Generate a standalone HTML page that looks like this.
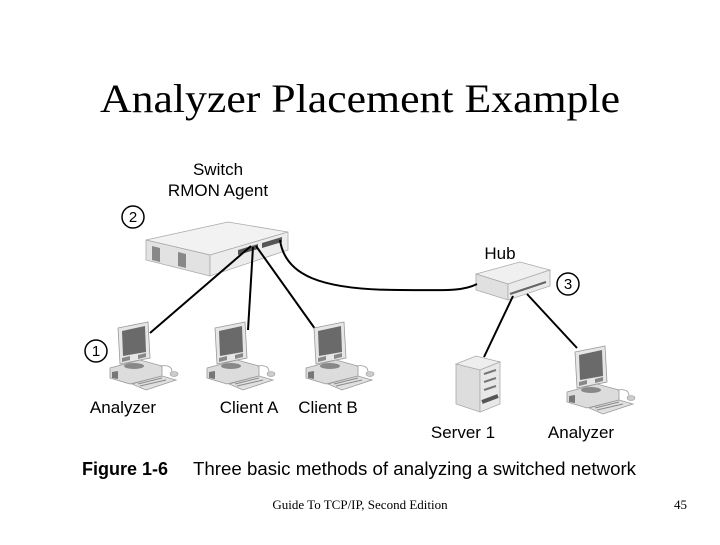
<!DOCTYPE html>
<html><head><style>
html,body{margin:0;padding:0;background:#fff;}
body{width:720px;height:540px;overflow:hidden;}
</style></head><body>
<svg width="720" height="540" viewBox="0 0 720 540" xmlns="http://www.w3.org/2000/svg">
<defs>
<g id="pc">
  <path d="M0,6 L30,0 L32,36 L2,42 Z" fill="#e6e6e6" stroke="#999" stroke-width="0.8"/>
  <path d="M4,9 L27,4 L28,30 L5,34 Z" fill="#6a6a6a"/>
  <path d="M4,36 L12,34 L12,38 L4,40 Z" fill="#888"/>
  <path d="M20,33 L28,31 L28,35 L20,37 Z" fill="#888"/>
  <path d="M-8,46 L22,38 L44,44 L44,54 L12,62 L-8,56 Z" fill="#dcdcdc" stroke="#999" stroke-width="0.8"/>
  <path d="M-6,50 L0,49 L0,57 L-6,56 Z" fill="#777"/>
  <ellipse cx="16" cy="44" rx="10" ry="3" fill="#888"/>
  <path d="M14,62 L44,54 L58,58 L28,68 Z" fill="#e0e0e0" stroke="#999" stroke-width="0.8"/>
  <path d="M20,62 L44,56 M22,64 L48,58" stroke="#888" stroke-width="1"/>
  <path d="M42,44 Q54,42 54,50" fill="none" stroke="#999" stroke-width="0.8"/>
  <ellipse cx="56" cy="52" rx="4" ry="2.5" fill="#ccc" stroke="#999" stroke-width="0.6"/>
</g>
</defs>

<text x="360" y="112" font-family="Liberation Serif, serif" font-size="40" text-anchor="middle" fill="#000" textLength="520" lengthAdjust="spacingAndGlyphs">Analyzer Placement Example</text>

<g font-family="Liberation Sans, sans-serif" font-size="17" fill="#000" text-anchor="middle">
  <text x="218" y="175">Switch</text>
  <text x="218" y="196">RMON Agent</text>
  <text x="500" y="259">Hub</text>
  <text x="123" y="413">Analyzer</text>
  <text x="249" y="413">Client A</text>
  <text x="328" y="413">Client B</text>
  <text x="463" y="438">Server 1</text>
  <text x="581" y="438">Analyzer</text>
</g>

<g fill="none" stroke="#000" stroke-width="1.5">
  <circle cx="133" cy="217" r="11"/>
  <circle cx="96" cy="351" r="11"/>
  <circle cx="568" cy="284" r="11"/>
</g>
<g font-family="Liberation Sans, sans-serif" font-size="15" text-anchor="middle">
  <text x="133" y="222">2</text>
  <text x="96" y="356">1</text>
  <text x="568" y="289">3</text>
</g>

<path d="M146,240 L228,222 L288,232 L210,255 Z" fill="#f2f2f2" stroke="#aaa" stroke-width="0.8"/>
<path d="M146,240 L210,255 L210,276 L146,260 Z" fill="#e2e2e2" stroke="#aaa" stroke-width="0.8"/>
<path d="M210,255 L288,232 L288,250 L210,276 Z" fill="#ececec" stroke="#aaa" stroke-width="0.8"/>
<path d="M152,246 L160,248 L160,262 L152,260 Z M178,252 L186,254 L186,268 L178,266 Z" fill="#888"/>
<path d="M238,250 L258,244 L258,249 L238,255 Z M262,243 L282,237 L282,242 L262,248 Z" fill="#555"/>

<path d="M476,274 L520,262 L550,270 L508,284 Z" fill="#f0f0f0" stroke="#aaa" stroke-width="0.8"/>
<path d="M476,274 L508,284 L508,300 L476,290 Z" fill="#e0e0e0" stroke="#aaa" stroke-width="0.8"/>
<path d="M508,284 L550,270 L550,286 L508,300 Z" fill="#eaeaea" stroke="#aaa" stroke-width="0.8"/>
<path d="M510,294 L546,282" stroke="#666" stroke-width="2"/>

<path d="M456,364 L476,356 L500,362 L480,370 Z" fill="#eee" stroke="#aaa" stroke-width="0.8"/>
<path d="M456,364 L480,370 L480,412 L456,404 Z" fill="#ddd" stroke="#aaa" stroke-width="0.8"/>
<path d="M480,370 L500,362 L500,404 L480,412 Z" fill="#e8e8e8" stroke="#aaa" stroke-width="0.8"/>
<path d="M484,374 L496,370 M484,382 L496,378 M484,390 L496,386" stroke="#777" stroke-width="2"/>
<path d="M482,402 L498,396" stroke="#555" stroke-width="4"/>

<g fill="none" stroke="#000" stroke-width="2">
  <path d="M251,246 L150,333"/>
  <path d="M253,247 L248,330"/>
  <path d="M256,246 L318,333"/>
  <path d="M280,240 C285,275 320,290 400,290 C440,290 462,292 477,284"/>
  <path d="M513,296 L484,357"/>
  <path d="M527,294 L577,348"/>
</g>

<use href="#pc" x="118" y="322"/>
<use href="#pc" x="215" y="322"/>
<use href="#pc" x="314" y="322"/>
<use href="#pc" x="575" y="346"/>

<text x="82" y="475" font-family="Liberation Sans, sans-serif" font-size="18" font-weight="bold">Figure 1-6</text>
<text x="193" y="475" font-family="Liberation Sans, sans-serif" font-size="18" textLength="443" lengthAdjust="spacingAndGlyphs">Three basic methods of analyzing a switched network</text>

<text x="360" y="509" font-family="Liberation Serif, serif" font-size="13" text-anchor="middle">Guide To TCP/IP, Second Edition</text>
<text x="674" y="509" font-family="Liberation Serif, serif" font-size="13">45</text>
</svg>
</body></html>
